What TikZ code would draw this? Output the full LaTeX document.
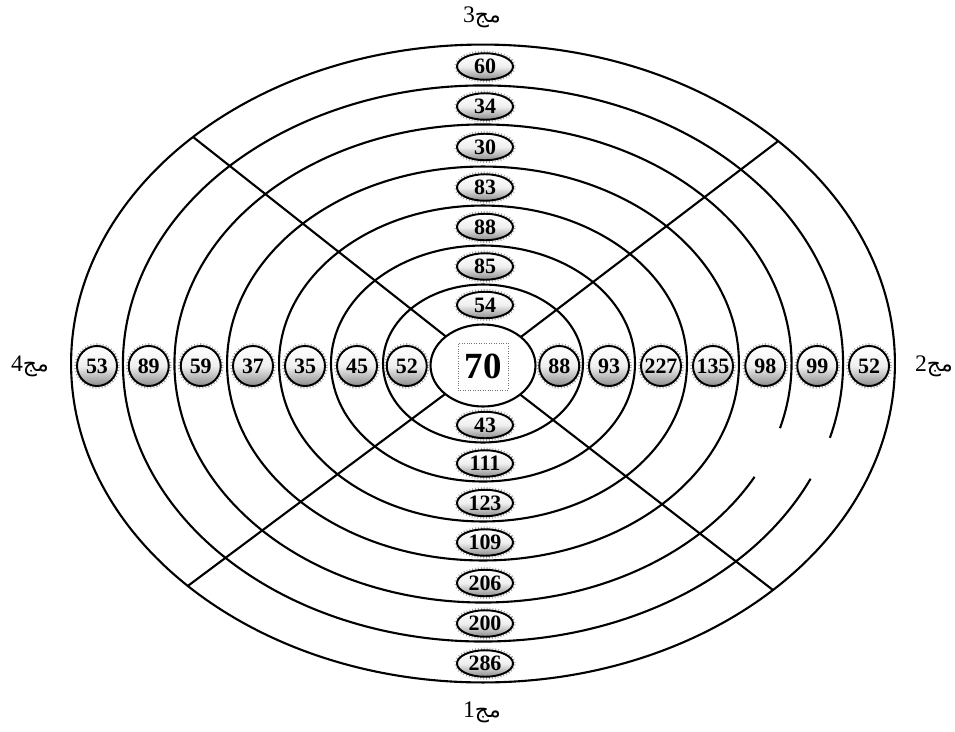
\documentclass[tikz,border=0pt]{standalone}
\usepackage{fontspec}
\setmainfont{Liberation Serif}
\newfontfamily\arabicfont[Script=Arabic]{DejaVu Sans}
\TeXXeTstate=1
\usetikzlibrary{shapes.geometric}
\tikzset{
  rim/.style={line width=1.2pt},
  ring/.style={ellipse, draw, rim, inner sep=0pt, outer sep=0pt},
  openring/.style={ellipse, inner sep=0pt, outer sep=0pt},
  halo/.style={preaction={draw=black!35, line width=3.2pt,
               dash pattern=on 0.5pt off 1.1pt}},
  numball/.style={circle, draw, line width=1.1pt, minimum size=0.8cm,
                  inner sep=0.5pt, top color=white, bottom color=black!45,
                  middle color=black!6, font=\numfont, halo},
  numoval/.style={ellipse, draw, line width=1.1pt, minimum width=1.12cm,
                  minimum height=0.53cm, inner sep=0pt, top color=white,
                  bottom color=black!45, middle color=black!6,
                  font=\numfont, halo},
  hub/.style={ellipse, draw, rim, fill=white, minimum width=2.1cm,
              minimum height=1.64cm, inner sep=0pt, outer sep=0pt},
  hubbox/.style={draw=black!55, densely dotted, minimum width=1.0cm,
                 minimum height=0.94cm, inner sep=0pt,
                 font=\fontsize{21}{24}\selectfont\bfseries},
  spoke/.style={line width=1.2pt},
  zonelbl/.style={font=\fontsize{13.5}{15}\selectfont, inner sep=1pt},
}
\newcommand{\numfont}{\fontsize{12.5}{14}\selectfont\bfseries}
\newcommand{\zonename}[1]{#1{\arabicfont\fontsize{12.5}{14}\selectfont\beginR مج\endR}}

\begin{document}
\begin{tikzpicture}[x=0.02cm, y=0.02cm]
  \useasboundingbox (-483,-367.5) rectangle (472,363.5);

  % ---- rings, outer to inner ----
  \node[ring]     (ring1) at (0,0) [minimum width=16.48cm, minimum height=12.76cm] {};
  \node[openring] (ring2) at (0,0) [minimum width=14.4cm,  minimum height=11.12cm] {};
  \node[openring] (ring3) at (0,0) [minimum width=12.34cm, minimum height=9.56cm] {};
  \node[ring]     (ring4) at (0,0) [minimum width=10.24cm, minimum height=7.88cm] {};
  \node[ring]     (ring5) at (0,0) [minimum width=8.16cm,  minimum height=6.32cm] {};
  \node[ring]     (ring6) at (0,0) [minimum width=6.08cm,  minimum height=4.72cm] {};
  \node[ring]     (ring7) at (0,0) [minimum width=4.0cm,   minimum height=3.16cm] {};

  % rings 2 and 3 are broken on the lower right
  \draw[rim] (ring2.center) ++(-15.5:360 and 278)
    arc[start angle=-15.5, end angle=335.5, x radius=360, y radius=278];
  \draw[rim] (ring3.center) ++(-15.7:308.5 and 239)
    arc[start angle=-15.7, end angle=331.7, x radius=308.5, y radius=239];

  % ---- centre ----
  \node[hub] (hub) at (0,-2) {};
  \node[hubbox] (hubval) at (0,-3) {70};

  % ---- spokes ----
  \draw[spoke] (hub.37.7)  -- (ring1.37.7);
  \draw[spoke] (hub.142.3) -- (ring1.142.3);
  \draw[spoke] (hub.217.7) -- (ring1.217.7);
  \draw[spoke] (hub.322.3) -- (ring1.322.3);

  % ---- zone 3 (top) ----
  \node[numoval] (t1) at (2,297)   {60};
  \node[numoval] (t2) at (2,257)   {34};
  \node[numoval] (t3) at (2,216.5) {30};
  \node[numoval] (t4) at (2,176)   {83};
  \node[numoval] (t5) at (2,136.5) {88};
  \node[numoval] (t6) at (2,97)    {85};
  \node[numoval] (t7) at (2,58.5)  {54};

  % ---- zone 1 (bottom) ----
  \node[numoval] (b1) at (2,-300)   {286};
  \node[numoval] (b2) at (2,-260)   {200};
  \node[numoval] (b3) at (2,-219.5) {206};
  \node[numoval] (b4) at (2,-179)   {109};
  \node[numoval] (b5) at (2,-139.5) {123};
  \node[numoval] (b6) at (2,-100)   {111};
  \node[numoval] (b7) at (2,-61.5)  {43};

  % ---- zone 4 (left) ----
  \node[numball] (l1) at (-386,-2.5)    {53};
  \node[numball] (l2) at (-334.25,-2.5) {89};
  \node[numball] (l3) at (-282.25,-2.5) {59};
  \node[numball] (l4) at (-230,-2.5)    {37};
  \node[numball] (l5) at (-178,-2.5)    {35};
  \node[numball] (l6) at (-126,-2.5)    {45};
  \node[numball] (l7) at (-76.25,-2.5)  {52};

  % ---- zone 2 (right) ----
  \node[numball] (r1) at (386,-2.5)    {52};
  \node[numball] (r2) at (334.25,-2.5) {99};
  \node[numball] (r3) at (282.25,-2.5) {98};
  \node[numball] (r4) at (230,-2.5)    {135};
  \node[numball] (r5) at (178,-2.5)    {227};
  \node[numball] (r6) at (126,-2.5)    {93};
  \node[numball] (r7) at (76.25,-2.5)  {88};

  % ---- zone names ----
  \node[zonelbl] (z3) at (-1,346.5)   {\zonename{3}};
  \node[zonelbl] (z1) at (-1,-348.5)  {\zonename{1}};
  \node[zonelbl] (z4) at (-453,-2.5)  {\zonename{4}};
  \node[zonelbl] (z2) at (451,-2.5)   {\zonename{2}};
\end{tikzpicture}
\end{document}
